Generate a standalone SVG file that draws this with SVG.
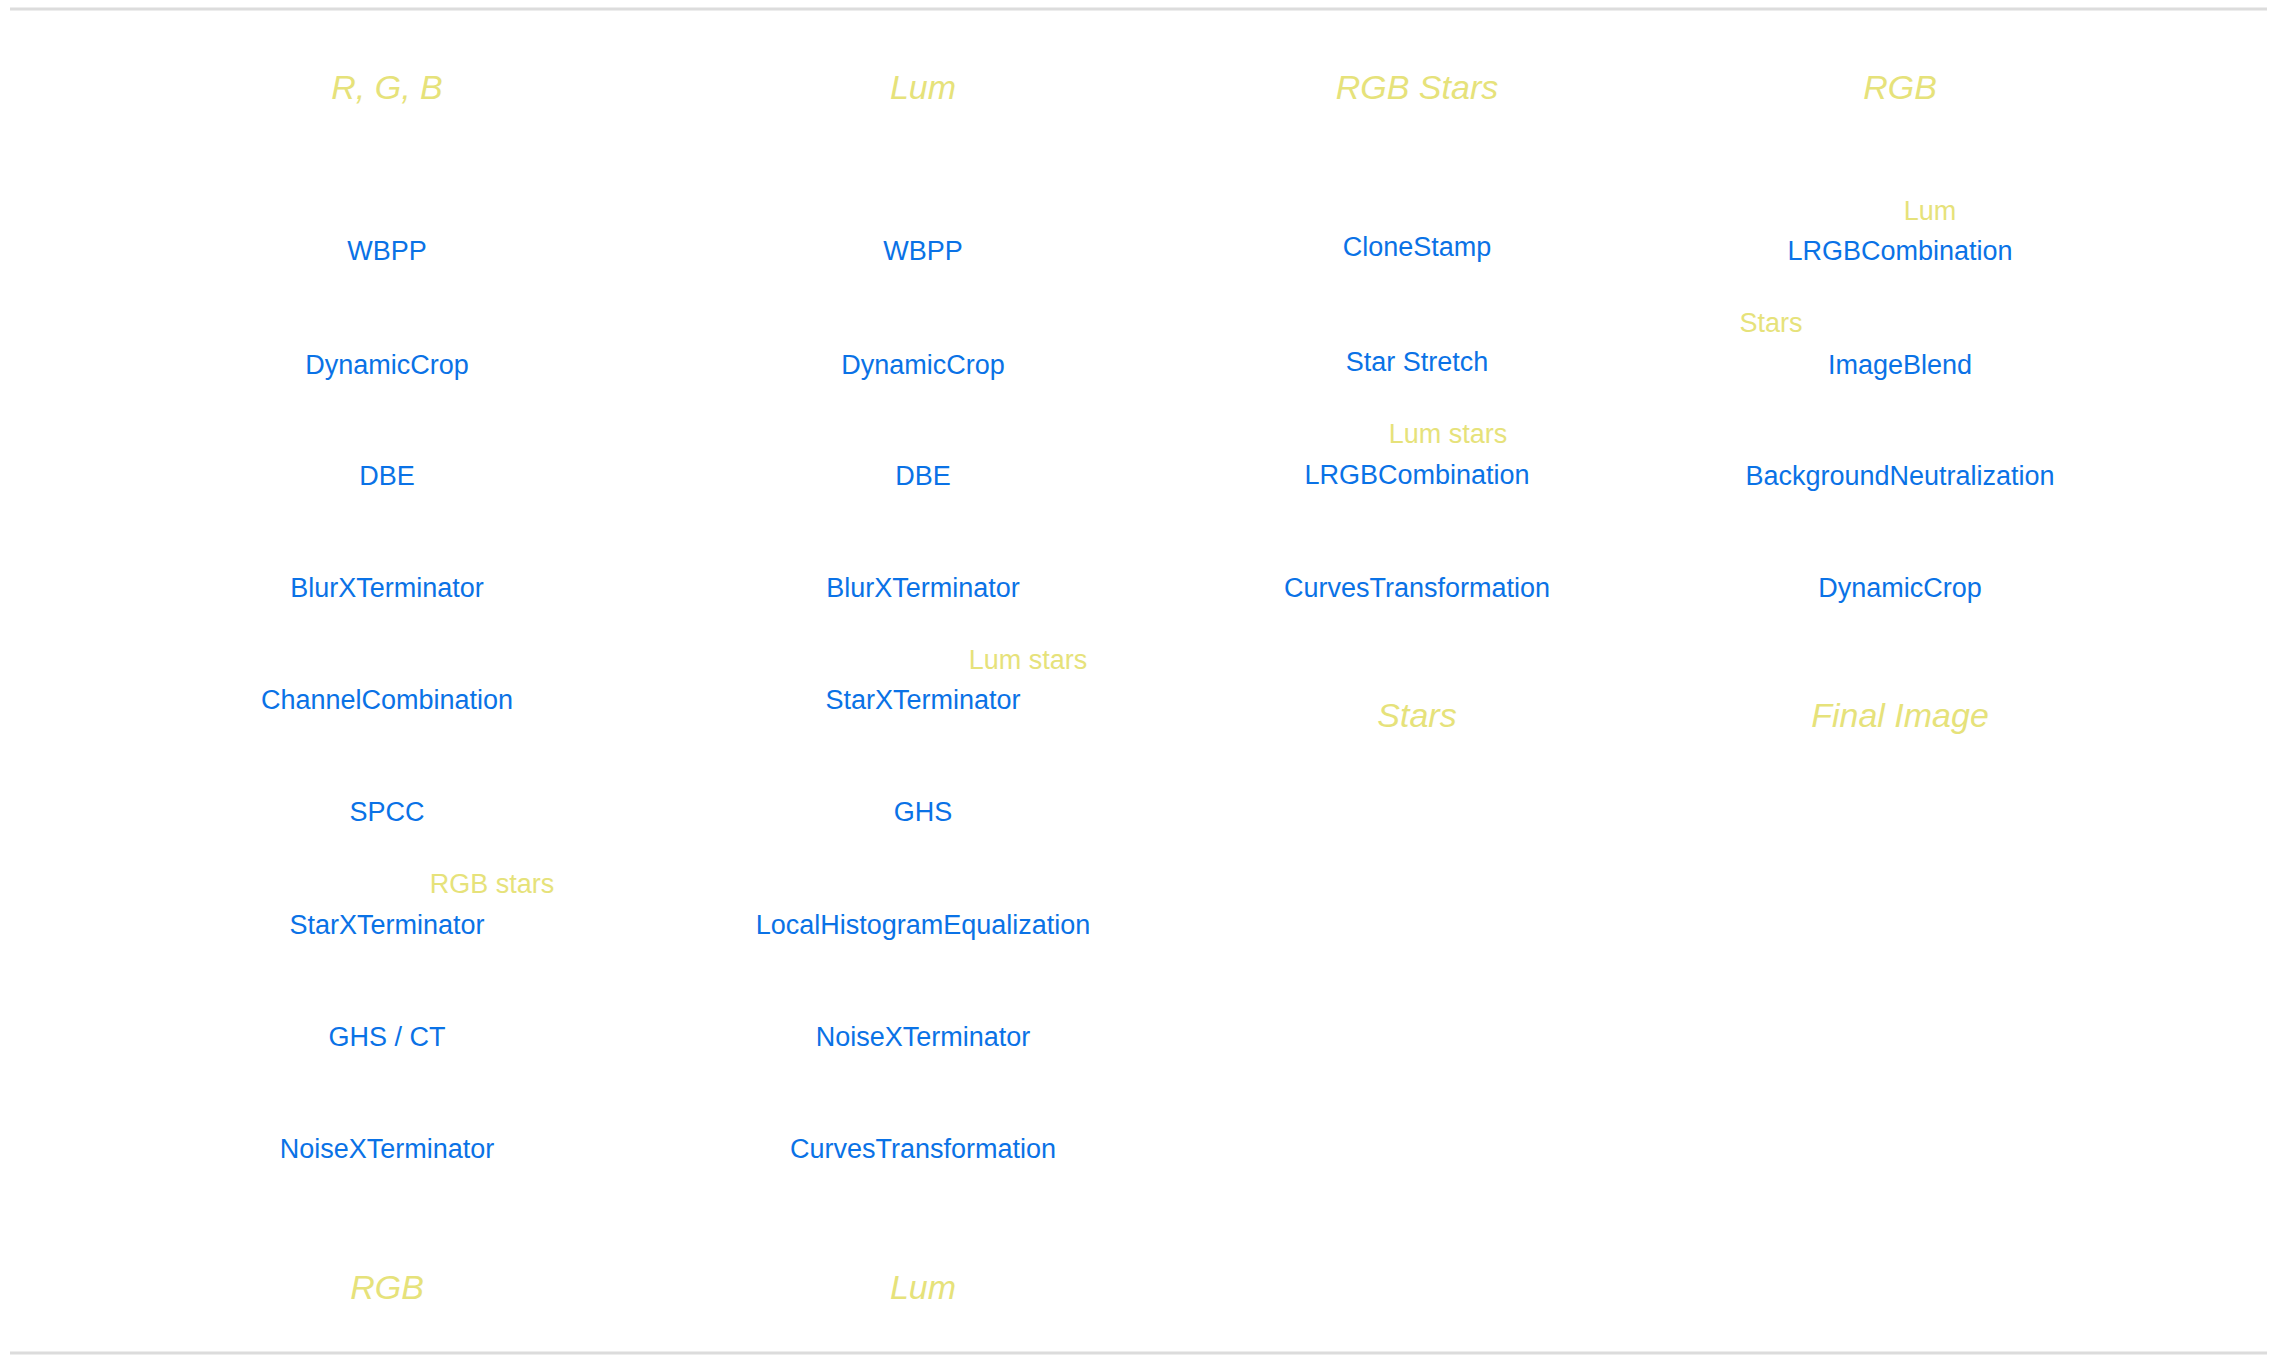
<svg xmlns="http://www.w3.org/2000/svg" width="2277" height="1362" viewBox="0 0 2277 1362">
<style>
.n{font-family:"Liberation Sans",Arial,sans-serif;font-size:27px;fill:#0a72e6;text-anchor:middle}
.l{font-family:"Liberation Sans",Arial,sans-serif;font-size:27px;fill:#e6e27a;text-anchor:middle}
.h{font-family:"Liberation Sans",Arial,sans-serif;font-size:34px;font-style:italic;fill:#e6e27a;text-anchor:middle}
.rule{stroke:#dcdcdc;stroke-width:3}
</style>
<rect width="2277" height="1362" fill="#ffffff"/>
<line class="rule" x1="10" y1="9" x2="2267" y2="9"/>
<line class="rule" x1="10" y1="1353" x2="2267" y2="1353"/>
<g id="connectors"></g>
<!-- Column 1 -->
<g id="c1-head"><text class="h" x="387" y="99">R, G, B</text></g>
<g id="c1-wbpp"><text class="n" x="387" y="260">WBPP</text></g>
<g id="c1-dynamiccrop"><text class="n" x="387" y="374">DynamicCrop</text></g>
<g id="c1-dbe"><text class="n" x="387" y="485">DBE</text></g>
<g id="c1-blurx"><text class="n" x="387" y="597">BlurXTerminator</text></g>
<g id="c1-channelcomb"><text class="n" x="387" y="709">ChannelCombination</text></g>
<g id="c1-spcc"><text class="n" x="387" y="821">SPCC</text></g>
<g id="c1-rgbstars"><text class="l" x="492" y="893">RGB stars</text></g>
<g id="c1-starx"><text class="n" x="387" y="934">StarXTerminator</text></g>
<g id="c1-ghsct"><text class="n" x="387" y="1046">GHS / CT</text></g>
<g id="c1-noisex"><text class="n" x="387" y="1158">NoiseXTerminator</text></g>
<g id="c1-out"><text class="h" x="387" y="1299">RGB</text></g>
<!-- Column 2 -->
<g id="c2-head"><text class="h" x="923" y="99">Lum</text></g>
<g id="c2-wbpp"><text class="n" x="923" y="260">WBPP</text></g>
<g id="c2-dynamiccrop"><text class="n" x="923" y="374">DynamicCrop</text></g>
<g id="c2-dbe"><text class="n" x="923" y="485">DBE</text></g>
<g id="c2-blurx"><text class="n" x="923" y="597">BlurXTerminator</text></g>
<g id="c2-lumstars"><text class="l" x="1028" y="669">Lum stars</text></g>
<g id="c2-starx"><text class="n" x="923" y="709">StarXTerminator</text></g>
<g id="c2-ghs"><text class="n" x="923" y="821">GHS</text></g>
<g id="c2-lhe"><text class="n" x="923" y="934">LocalHistogramEqualization</text></g>
<g id="c2-noisex"><text class="n" x="923" y="1046">NoiseXTerminator</text></g>
<g id="c2-curves"><text class="n" x="923" y="1158">CurvesTransformation</text></g>
<g id="c2-out"><text class="h" x="923" y="1299">Lum</text></g>
<!-- Column 3 -->
<g id="c3-head"><text class="h" x="1417" y="99">RGB Stars</text></g>
<g id="c3-clonestamp"><text class="n" x="1417" y="256">CloneStamp</text></g>
<g id="c3-starstretch"><text class="n" x="1417" y="371">Star Stretch</text></g>
<g id="c3-lumstars"><text class="l" x="1448" y="443">Lum stars</text></g>
<g id="c3-lrgb"><text class="n" x="1417" y="484">LRGBCombination</text></g>
<g id="c3-curves"><text class="n" x="1417" y="597">CurvesTransformation</text></g>
<g id="c3-out"><text class="h" x="1417" y="727">Stars</text></g>
<!-- Column 4 -->
<g id="c4-head"><text class="h" x="1900" y="99">RGB</text></g>
<g id="c4-lum"><text class="l" x="1930" y="220">Lum</text></g>
<g id="c4-lrgb"><text class="n" x="1900" y="260">LRGBCombination</text></g>
<g id="c4-stars"><text class="l" x="1771" y="332">Stars</text></g>
<g id="c4-imageblend"><text class="n" x="1900" y="374">ImageBlend</text></g>
<g id="c4-bgneut"><text class="n" x="1900" y="485">BackgroundNeutralization</text></g>
<g id="c4-dynamiccrop"><text class="n" x="1900" y="597">DynamicCrop</text></g>
<g id="c4-out"><text class="h" x="1900" y="727">Final Image</text></g>
</svg>
